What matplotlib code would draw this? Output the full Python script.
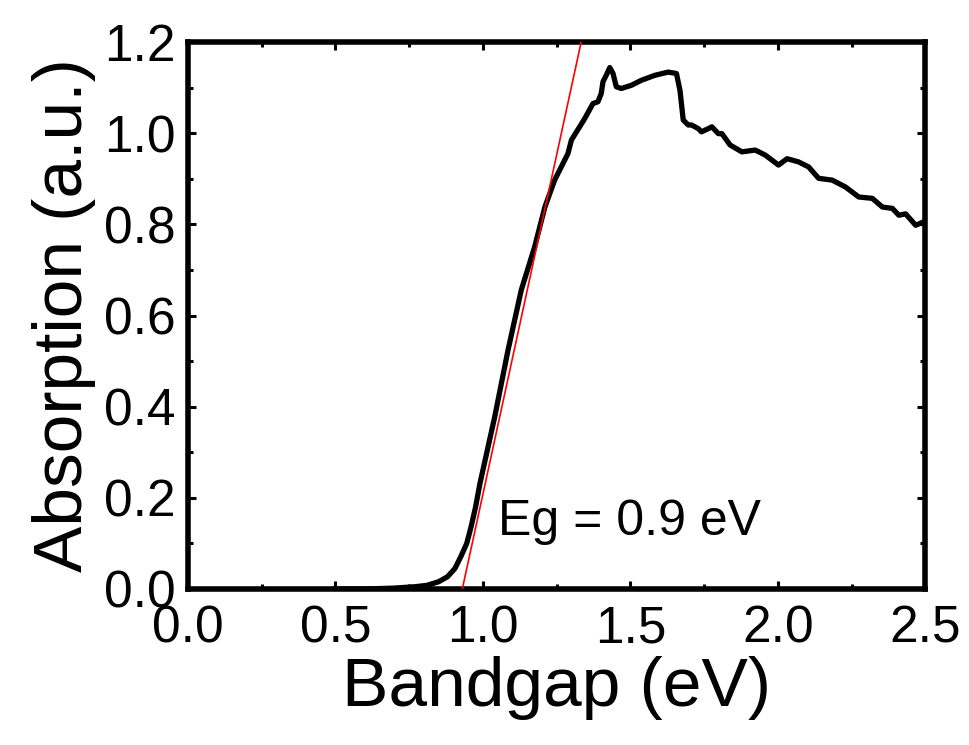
import numpy as np
import matplotlib.pyplot as plt
from matplotlib.ticker import MultipleLocator

plt.rcParams["font.family"] = ["Liberation Sans", "DejaVu Sans"]

# absorption curve
energy = [0.50, 0.60, 0.70, 0.77, 0.81, 0.85, 0.88, 0.905, 0.925, 0.945, 0.96,
          0.975, 0.99, 1.04, 1.085, 1.13, 1.175, 1.21, 1.243, 1.288, 1.30,
          1.345, 1.373, 1.39, 1.401, 1.407, 1.418, 1.43, 1.441, 1.452, 1.469,
          1.503, 1.537, 1.583, 1.628, 1.656, 1.668, 1.679, 1.696, 1.707, 1.73,
          1.741, 1.764, 1.776, 1.798, 1.81, 1.838, 1.878, 1.923, 1.957, 2.002,
          2.031, 2.07, 2.104, 2.138, 2.184, 2.229, 2.274, 2.32, 2.354, 2.388,
          2.41, 2.433, 2.467, 2.496]
absorption = [0.0, 0.0, 0.002, 0.005, 0.008, 0.016, 0.027, 0.045, 0.071, 0.1,
              0.137, 0.18, 0.232, 0.378, 0.524, 0.656, 0.75, 0.838, 0.897,
              0.955, 0.985, 1.032, 1.065, 1.069, 1.087, 1.113, 1.127, 1.144,
              1.131, 1.102, 1.098, 1.105, 1.116, 1.127, 1.134, 1.131, 1.094,
              1.029, 1.018, 1.018, 1.010, 1.003, 1.010, 1.014, 0.999, 0.999,
              0.974, 0.959, 0.963, 0.952, 0.930, 0.944, 0.937, 0.926, 0.901,
              0.897, 0.882, 0.860, 0.857, 0.838, 0.835, 0.820, 0.823, 0.798,
              0.806]

# linear fit for the band edge
fit_x = [0.93, 1.333]
fit_y = [0.0, 1.2]

fig = plt.figure(figsize=(9.69, 7.45), dpi=100)
ax = fig.add_axes([0.194, 0.2094, 0.761, 0.7342])

ax.plot(energy, absorption, color="black", lw=3.8, solid_joinstyle="round",
        zorder=3)
ax.plot(fit_x, fit_y, color="red", lw=1.2, zorder=4)

ax.set_xlim(0, 2.5)
ax.set_ylim(0, 1.2)
ax.xaxis.set_major_locator(MultipleLocator(0.5))
ax.xaxis.set_minor_locator(MultipleLocator(0.25))
ax.yaxis.set_major_locator(MultipleLocator(0.2))
ax.yaxis.set_minor_locator(MultipleLocator(0.1))
ax.xaxis.set_major_formatter(lambda v, p: f"{v:.1f}")
ax.yaxis.set_major_formatter(lambda v, p: f"{v:.1f}")

for s in ax.spines.values():
    s.set_linewidth(4)

ax.tick_params(which="both", direction="in", top=True, right=True,
               width=2.2, labelsize=37)
ax.tick_params(which="major", length=6)
ax.tick_params(which="minor", length=3.5)
ax.tick_params(axis="x", which="major", pad=11)
ax.tick_params(axis="y", which="major", pad=9)

ax.set_xlabel("Bandgap (eV)", fontsize=50, labelpad=2)
ax.set_ylabel("Absorption (a.u.)", fontsize=50, labelpad=6)

ax.text(1.051, 0.118, "Eg = 0.9 eV", fontsize=36, ha="left", va="baseline")

fig.savefig("out.png", dpi=100)
